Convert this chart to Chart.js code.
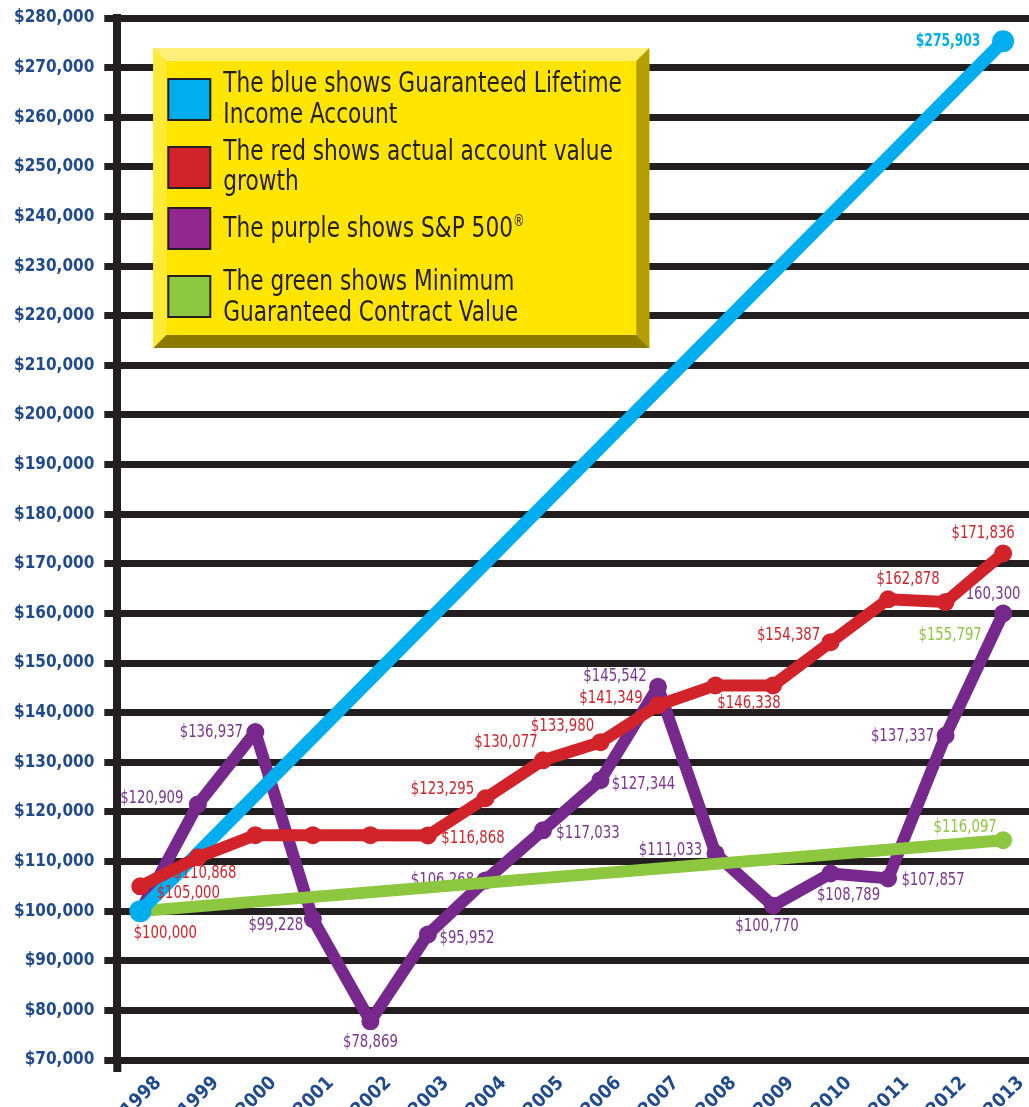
<!DOCTYPE html>
<html>
<head>
<meta charset="utf-8">
<script src="https://cdn.jsdelivr.net/npm/chart.js@4.4.0/dist/chart.umd.min.js"></script>
<style>
  html, body { margin: 0; padding: 0; background: #fff; }
  canvas { display: block; }
</style>
</head>
<body>
<canvas id="chart" width="1029" height="1107"></canvas>
<script>
// values, one per year
const years = [1998, 1999, 2000, 2001, 2002, 2003, 2004, 2005, 2006, 2007, 2008, 2009, 2010, 2011, 2012, 2013];
const blueValues   = [100000, null, null, null, null, null, null, null, null, null, null, null, null, null, null, 275300];
const redValues    = [105000, 110850, 115300, 115300, 115300, 115250, 122750, 130400, 134050, 141500, 145500, 145500, 154200, 162850, 162300, 172100];
const purpleValues = [100000, 121500, 136100, 98400, 77800, 95300, 106200, 116300, 126400, 145200, 111600, 101100, 107600, 106600, 135400, 160000];
const greenValues  = [100000, null, null, null, null, null, null, null, null, null, null, null, null, null, null, 114300];

// printed value labels
const blueNotes   = ['', '', '', '', '', '', '', '', '', '', '', '', '', '', '', '$275,903'];
const redNotes    = ['$105,000', '$110,868', '', '', '', '$116,868', '$123,295', '$130,077', '$133,980', '$141,349', '', '$146,338', '$154,387', '$162,878', '', '$171,836'];
const purpleNotes = ['', '$120,909', '$136,937', '$99,228', '$78,869', '$95,952', '$106,268', '$117,033', '$127,344', '$145,542', '$111,033', '$100,770', '$108,789', '$107,857', '$137,337', '160,300'];
const greenNotes  = ['', '', '', '', '', '', '', '', '', '', '', '', '', '', '', '$116,097'];

const legendBlue   = ['The blue shows Guaranteed Lifetime', 'Income Account'];
const legendRed    = ['The red shows actual account value', 'growth'];
const legendPurple = ['The purple shows S&P 500®'];
const legendGreen  = ['The green shows Minimum', 'Guaranteed Contract Value'];

const BLUE = '#00aeef', RED = '#d2232a', PURPLE = '#77288d', GREEN = '#8dc63f';
const INK = '#231f20', AXIS_TEXT = '#1f4b8e';
const NARROW = "'Liberation Sans Narrow', 'DejaVu Sans Condensed', sans-serif";

// label offsets from their point (layout only)
const redOffsets = [[48, 7], [7, 16], null, null, null, [45, 3], [-43, -9], [-37, -18], [-38, -16], [-47, -7], null, [-24, 18], [-42, -7], [20, -20], null, [-20, -20]];
const purpleOffsets = [null, [-46, -6], [-44, 0], [-37, 6], [0, 21], [39, 4], [-43, 0], [45, 3], [43, 4], [-43, -11], [-45, -3], [-6, 21], [18, 22], [45, 2], [-43, 1], [-10, -19]];
const blueOffsets = {15: [-55, 0]};
const greenOffsets = {15: [-38, -13]};
const looseNotes = [
  {text: '$100,000', ds: 0, i: 0, color: RED, dx: 25, dy: 22},
  {text: '$155,797', ds: 2, i: 15, color: GREEN, dx: -53, dy: 22}
];

function pts(vals) {
  return years.map((y, i) => ({x: y, y: vals[i]}));
}

// squeeze text sideways, the print uses a condensed face
function narrowText(ctx, text, x, y, sx) {
  ctx.save();
  ctx.translate(x, y);
  ctx.scale(sx, 1);
  ctx.fillText(text, 0, 0);
  ctx.restore();
}

const notesPlugin = {
  id: 'notes',
  afterDatasetDraw(chart, args) {
    const ds = chart.data.datasets[args.index];
    if (!ds.notes) return;
    const ctx = chart.ctx;
    ctx.save();
    ctx.font = ds.noteFont || ('18px ' + NARROW);
    ctx.fillStyle = ds.noteColor;
    ctx.textAlign = 'center';
    ctx.textBaseline = 'middle';
    ds.notes.forEach((t, i) => {
      if (!t) return;
      const p = args.meta.data[i];
      const off = ds.noteOffsets[i] || [0, 0];
      narrowText(ctx, t, p.x + off[0], p.y + off[1], ds.noteScale || 0.82);
    });
    ctx.restore();
  },
  afterDatasetsDraw(chart) {
    const ctx = chart.ctx;
    ctx.save();
    ctx.font = '18px ' + NARROW;
    ctx.textAlign = 'center';
    ctx.textBaseline = 'middle';
    looseNotes.forEach(n => {
      const p = chart.getDatasetMeta(n.ds).data[n.i];
      ctx.fillStyle = n.color;
      narrowText(ctx, n.text, p.x + n.dx, p.y + n.dy, 0.82);
    });
    ctx.restore();
  },
  beforeDatasetsDraw(chart) {
    // axis line runs a little past the last gridline
    const a = chart.chartArea;
    chart.ctx.fillStyle = INK;
    chart.ctx.fillRect(a.left - 4, a.bottom, 8, 12);
  }
};

const legendPlugin = {
  id: 'boxLegend',
  afterDraw(chart) {
    const ctx = chart.ctx;
    const a = chart.chartArea;
    const x0 = a.left + 36, y0 = a.top + 30, w = 496, h = 300, b = 13;
    ctx.save();
    // bevelled yellow box
    ctx.fillStyle = '#ffe500';
    ctx.fillRect(x0, y0, w, h);
    ctx.fillStyle = '#fff07a';
    ctx.beginPath(); ctx.moveTo(x0, y0); ctx.lineTo(x0 + w, y0); ctx.lineTo(x0 + w - b, y0 + b); ctx.lineTo(x0 + b, y0 + b); ctx.closePath(); ctx.fill();
    ctx.fillStyle = '#ffea3a';
    ctx.beginPath(); ctx.moveTo(x0, y0); ctx.lineTo(x0 + b, y0 + b); ctx.lineTo(x0 + b, y0 + h - b); ctx.lineTo(x0, y0 + h); ctx.closePath(); ctx.fill();
    ctx.fillStyle = '#b59f00';
    ctx.beginPath(); ctx.moveTo(x0 + w, y0); ctx.lineTo(x0 + w, y0 + h); ctx.lineTo(x0 + w - b, y0 + h - b); ctx.lineTo(x0 + w - b, y0 + b); ctx.closePath(); ctx.fill();
    ctx.fillStyle = '#8b7a00';
    ctx.beginPath(); ctx.moveTo(x0, y0 + h); ctx.lineTo(x0 + w, y0 + h); ctx.lineTo(x0 + w - b, y0 + h - b); ctx.lineTo(x0 + b, y0 + h - b); ctx.closePath(); ctx.fill();

    const items = [
      {color: BLUE, lines: legendBlue, sy: 31, ty: [37, 68]},
      {color: RED, lines: legendRed, sy: 99, ty: [105, 135]},
      {color: '#92278f', lines: legendPurple, sy: 160, ty: [182]},
      {color: GREEN, lines: legendGreen, sy: 228, ty: [235, 266]}
    ];
    const sx = 0.86;
    ctx.textBaseline = 'middle';
    ctx.textAlign = 'left';
    items.forEach(it => {
      ctx.fillStyle = it.color;
      ctx.fillRect(x0 + 15, y0 + it.sy, 42, 41);
      ctx.strokeStyle = INK;
      ctx.lineWidth = 2;
      ctx.strokeRect(x0 + 15, y0 + it.sy, 42, 41);
      ctx.fillStyle = INK;
      it.lines.forEach((line, k) => {
        const tx = x0 + 70, ty = y0 + it.ty[k];
        ctx.font = '28px ' + NARROW;
        if (line.endsWith('®')) {
          const main = line.slice(0, -1);
          narrowText(ctx, main, tx, ty, sx);
          const mw = ctx.measureText(main).width * sx;
          ctx.font = '15px ' + NARROW;
          narrowText(ctx, '®', tx + mw, ty - 8, sx);
        } else {
          narrowText(ctx, line, tx, ty, sx);
        }
      });
    });
    ctx.restore();
  }
};

function lineSet(label, vals, color, width, radius, order) {
  return {
    label: label,
    data: pts(vals),
    borderColor: color,
    backgroundColor: color,
    borderWidth: width,
    pointRadius: radius,
    pointBorderWidth: 0,
    borderCapStyle: 'round',
    borderJoinStyle: 'round',
    spanGaps: true,
    tension: 0,
    order: order
  };
}

const blueSet = lineSet(legendBlue.join(' '), blueValues, BLUE, 13, 11, 1);
blueSet.notes = blueNotes; blueSet.noteOffsets = blueOffsets; blueSet.noteColor = BLUE;
blueSet.noteFont = 'bold 18px ' + NARROW; blueSet.noteScale = 0.76;
const redSet = lineSet(legendRed.join(' '), redValues, RED, 12, 9, 0);
redSet.notes = redNotes; redSet.noteOffsets = redOffsets; redSet.noteColor = RED;
const purpleSet = lineSet(legendPurple.join(' '), purpleValues, PURPLE, 12, 9, 3);
purpleSet.notes = purpleNotes; purpleSet.noteOffsets = purpleOffsets; purpleSet.noteColor = '#7b3491';
const greenSet = lineSet(legendGreen.join(' '), greenValues, GREEN, 12, 9, 2);
greenSet.notes = greenNotes; greenSet.noteOffsets = greenOffsets; greenSet.noteColor = GREEN;

const ctx = document.getElementById('chart').getContext('2d');
const myChart = new Chart(ctx, {
  type: 'line',
  data: { datasets: [blueSet, redSet, purpleSet, greenSet] },
  options: {
    responsive: false,
    animation: false,
    layout: { autoPadding: false, padding: { left: 4, top: 18, right: 0, bottom: 0 } },
    plugins: { legend: { display: false }, tooltip: { enabled: false } },
    scales: {
      x: {
        type: 'linear',
        min: 1997.6,
        max: 2013.45,
        afterBuildTicks: s => { s.ticks = years.map(v => ({ value: v })); },
        afterFit: s => { s.paddingLeft = 0; s.paddingRight = 0; s.height = 47; },
        grid: { display: false, drawTicks: false },
        border: { display: false },
        ticks: {
          autoSkip: false,
          minRotation: 45,
          maxRotation: 45,
          labelOffset: 18,
          padding: 12,
          color: AXIS_TEXT,
          font: { family: NARROW, size: 19, weight: 'bold' },
          callback: v => String(v)
        }
      },
      y: {
        min: 70000,
        max: 280000,
        afterFit: s => { s.paddingTop = 0; s.paddingBottom = 0; },
        grid: { color: INK, lineWidth: 7, tickLength: 13, tickColor: INK, tickWidth: 7 },
        border: { display: true, color: INK, width: 8 },
        ticks: {
          stepSize: 10000,
          padding: 10,
          color: AXIS_TEXT,
          font: { family: NARROW, size: 17, weight: 'bold' },
          callback: v => '$' + v.toLocaleString('en-US')
        }
      }
    }
  },
  plugins: [notesPlugin, legendPlugin]
});
</script>
</body>
</html>
